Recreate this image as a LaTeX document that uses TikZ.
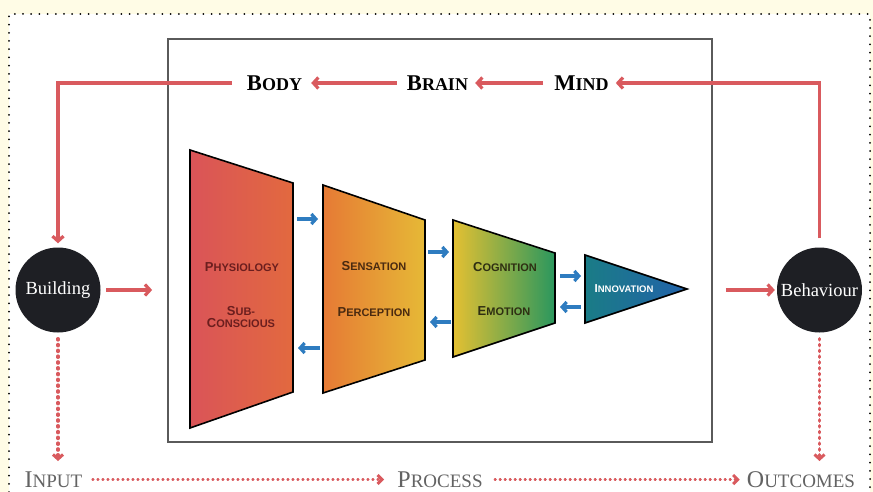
\documentclass[tikz,border=0pt]{standalone}
\usepackage{fontspec}
\setmainfont{Liberation Serif}
\newfontfamily\lsans{Liberation Sans}
\usetikzlibrary{arrows.meta}
\definecolor{bgyellow}{HTML}{FFFCE6}
\definecolor{redln}{HTML}{D95A5E}
\definecolor{bluea}{HTML}{2E7CC0}
\definecolor{circ}{HTML}{1E1F24}
\definecolor{framegray}{HTML}{5A5A5A}
\definecolor{lblgray}{HTML}{636363}
\definecolor{tA1}{HTML}{DA5458}
\definecolor{tA2}{HTML}{E2693F}
\definecolor{tB1}{HTML}{E67A35}
\definecolor{tB2}{HTML}{E6B936}
\definecolor{tC1}{HTML}{E4C032}
\definecolor{tC2}{HTML}{2A975E}
\definecolor{tD1}{HTML}{1A7C86}
\definecolor{tD2}{HTML}{2262AA}
\definecolor{txA}{HTML}{6B1E1E}
\definecolor{txB}{HTML}{4A2A10}
\definecolor{txC}{HTML}{2E2E12}
\newcommand{\topsc}[2]{{\bfseries\fontsize{22.5}{24}\selectfont #1\fontsize{18}{20}\selectfont #2}}
\newcommand{\botsc}[2]{{\fontsize{24}{26}\selectfont #1\fontsize{19}{21}\selectfont #2}}
\newcommand{\trsc}[2]{{\fontsize{13}{13}\selectfont #1\fontsize{11}{13}\selectfont #2}}
\begin{document}
\begin{tikzpicture}[x=1pt,y=-1pt,
  redarrow/.style={draw=redln,line width=3.2pt,-{Straight Barb[length=5pt,width=11pt]}},
  reddotv/.style={draw=redln,line width=3.4pt,line cap=round,dash pattern=on 1.2pt off 4.6pt,-{Straight Barb[length=4.5pt,width=10pt,line width=3pt]}},
  reddoth/.style={draw=redln,line width=2.4pt,line cap=round,dash pattern=on 0.8pt off 4.2pt,-{Straight Barb[length=4.5pt,width=9pt,line width=3pt]}},
  bluearrow/.style={draw=bluea,line width=3.2pt,-{Straight Barb[length=4.5pt,width=10pt]}},
  toplbl/.style={inner sep=0pt,text=black},
  botlbl/.style={inner sep=0pt,text=lblgray},
  circnode/.style={circle,fill=circ,text=white,minimum size=85pt,inner sep=0pt,font=\fontsize{18.5}{20}\selectfont},
  trap/.style={draw=black,line width=1.6pt,line join=miter},
  trlbl/.style={inner sep=0pt,font=\lsans\bfseries,align=center}
]
\useasboundingbox (0,0) rectangle (873,492);
\fill[bgyellow] (0,0) rectangle (873,492);
\fill[white] (9,14) rectangle (870,492);
\draw[line width=2pt,line cap=round,dash pattern=on 0pt off 8.2pt] (9,492) -- (9,14) -- (870,14) -- (870,492);

% inner frame
\node[draw=framegray,line width=1.8pt,minimum width=544pt,minimum height=403pt,inner sep=0pt] (frame) at (440,240.5) {};

% top labels
\node[toplbl] (body) at (274.5,83) {\topsc{B}{ODY}};
\node[toplbl] (brain) at (437.5,83) {\topsc{B}{RAIN}};
\node[toplbl] (mind) at (581.5,83) {\topsc{M}{IND}};

% circles
\node[circnode] (building) at (58,290) {Building};
\node[circnode] (behaviour) at (819.5,290) {Behaviour};

% bottom labels
\node[botlbl] (input) at (53.5,479.5) {\botsc{I}{NPUT}};
\node[botlbl] (process) at (440,479.5) {\botsc{P}{ROCESS}};
\node[botlbl] (outcomes) at (801,479.5) {\botsc{O}{UTCOMES}};
\coordinate (inend) at (58,461);
\coordinate (outend) at (819.5,461);

% top red arrows
\draw[redarrow,shorten <=9pt,shorten >=7pt] (behaviour.north) |- (mind.east);
\draw[redarrow,shorten <=11pt,shorten >=7pt] (mind.west) -- (brain.east);
\draw[redarrow,shorten <=10pt,shorten >=9pt] (brain.west) -- (body.east);
\draw[redarrow,shorten <=15pt,shorten >=4pt] (body.west) -| (building.north);

% horizontal red arrows
\draw[redarrow,shorten <=5.5pt,shorten >=15pt] (building.east) -- (building.east -| frame.west);
\draw[redarrow,shorten <=13pt,shorten >=2pt] (frame.east |- behaviour.west) -- (behaviour.west);

% dotted verticals
\draw[reddotv,shorten <=6pt] (building.south) -- (inend);
\draw[reddotv,shorten <=6pt] (behaviour.south) -- (outend);

% bottom dotted
\draw[reddoth,shorten <=10pt,shorten >=13pt] (input.east) -- (process.west);
\draw[reddoth,shorten <=12pt,shorten >=7pt] (process.east) -- (outcomes.west);

% trapezoids
\shade[trap,left color=tA1,right color=tA2] (190,150) -- (293,183) -- (293,392) -- (190,428) -- cycle;
\shade[trap,left color=tB1,right color=tB2] (323,185) -- (425,220) -- (425,360) -- (323,393) -- cycle;
\shade[trap,left color=tC1,right color=tC2] (453,220) -- (555,253) -- (555,323) -- (453,357) -- cycle;
\shade[trap,left color=tD1,right color=tD2] (585,255) -- (687,289) -- (585,323) -- cycle;

% trapezoid labels
\node[trlbl,text=txA] (physio) at (242,267) {\trsc{P}{HYSIOLOGY}};
\node[trlbl,text=txA] (subcon) at (241,317) {\trsc{S}{UB-}\\\trsc{C}{ONSCIOUS}};
\node[trlbl,text=txB] (sens) at (374,266) {\trsc{S}{ENSATION}};
\node[trlbl,text=txB] (perc) at (374,312) {\trsc{P}{ERCEPTION}};
\node[trlbl,text=txC] (cogn) at (505,267) {\trsc{C}{OGNITION}};
\node[trlbl,text=txC] (emot) at (504,311) {\trsc{E}{MOTION}};
\node[trlbl,text=white] (innov) at (624,289) {{\fontsize{11.5}{12}\selectfont I\fontsize{9.5}{12}\selectfont NNOVATION}};

% blue arrows
\draw[bluearrow] (297,219) -- (318,219);
\draw[bluearrow] (320,348) -- (298,348);
\draw[bluearrow] (428,252) -- (449,252);
\draw[bluearrow] (451,322) -- (430,322);
\draw[bluearrow] (560,276) -- (581,276);
\draw[bluearrow] (581,307) -- (560,307);
\end{tikzpicture}
\end{document}
